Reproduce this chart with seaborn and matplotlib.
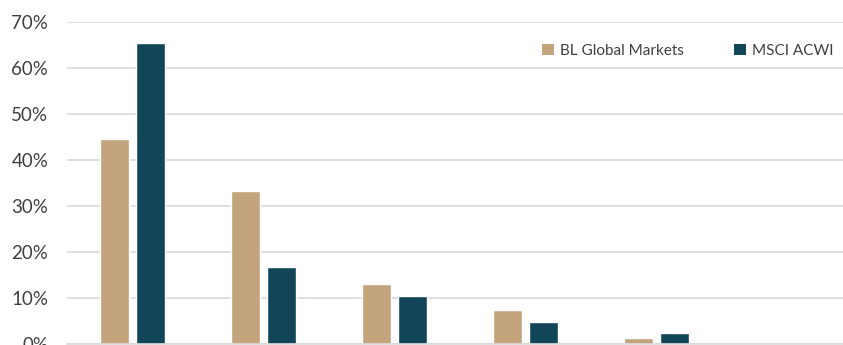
import matplotlib
matplotlib.use("Agg")
import matplotlib.pyplot as plt
import seaborn as sns
import pandas as pd
from matplotlib.ticker import FuncFormatter
from matplotlib.patches import Patch

categories = ["Cat 1", "Cat 2", "Cat 3", "Cat 4", "Cat 5", "Cat 6"]
series_names = ["BL Global Markets", "MSCI ACWI"]
bl_values = [44.6, 33.2, 13.0, 7.5, 1.3, 0.0]
acwi_values = [65.4, 16.7, 10.4, 4.8, 2.3, 0.0]
y_ticks = [0, 10, 20, 30, 40, 50, 60, 70]

colors = ["#C4A47C", "#134559"]

df = pd.DataFrame({
    "category": categories * 2,
    "series": [series_names[0]] * len(categories) + [series_names[1]] * len(categories),
    "value": bl_values + acwi_values,
})

sns.set_theme(style="white")
plt.rcParams["font.family"] = ["Lato", "DejaVu Sans"]

W, H = 843, 345
fig = plt.figure(figsize=(W / 100, H / 100), dpi=100)
left_px, right_px, top_px, bottom_px = 67, 853, 22, 344
ax = fig.add_axes([left_px / W, (H - bottom_px) / H,
                   (right_px - left_px) / W, (bottom_px - top_px) / H])

sns.barplot(data=df, x="category", y="value", hue="series", order=categories,
            hue_order=series_names, palette=colors, width=0.55, gap=0.18,
            saturation=1, ax=ax, legend=False)

ax.set_ylim(0, 70)
ax.set_xlim(-0.5, len(categories) - 0.5)
ax.set_yticks(y_ticks)
ax.yaxis.set_major_formatter(FuncFormatter(lambda v, p: f"{v:.0f}%"))
ax.tick_params(axis="y", length=0, pad=13.5, labelsize=13.5, labelcolor="#404040")
ax.tick_params(axis="x", length=0, labelbottom=False)
ax.set_xlabel("")
ax.set_ylabel("")
ax.grid(axis="y", color="#D9D9D9", linewidth=1.2)
ax.set_axisbelow(True)
for s in ["top", "right", "left"]:
    ax.spines[s].set_visible(False)
ax.spines["bottom"].set_color("#D9D9D9")
ax.spines["bottom"].set_linewidth(1.2)

handles = [Patch(facecolor=c, edgecolor="none", label=n) for c, n in zip(colors, series_names)]
leg = ax.legend(handles=handles, loc="upper right", bbox_to_anchor=(847 / W, (H - 30) / H),
                bbox_transform=fig.transFigure, ncol=2, frameon=False, fontsize=11,
                handlelength=0.75, handleheight=0.75, handletextpad=0.4, columnspacing=3.3,
                labelcolor="#404040")

fig.savefig("out.png", dpi=100)
